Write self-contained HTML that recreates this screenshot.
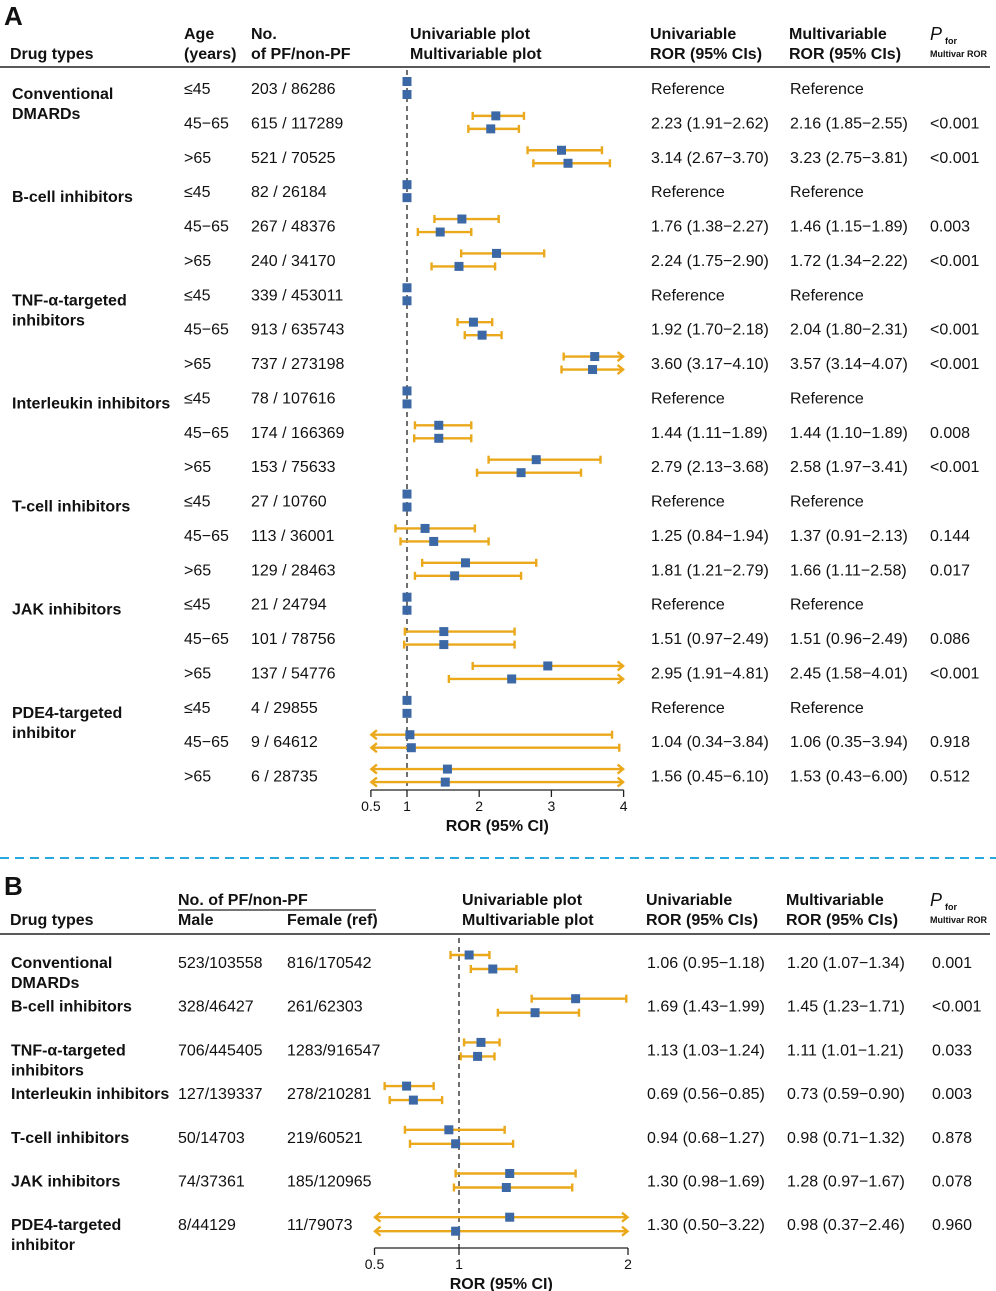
<!DOCTYPE html>
<html><head><meta charset="utf-8"><style>
html,body{margin:0;padding:0;background:#fff}
svg{display:block;font-family:"Liberation Sans",Arial,sans-serif}
.b{font-weight:bold}
</style></head><body>
<svg id="s" width="996" height="1291" viewBox="0 0 996 1291" xmlns="http://www.w3.org/2000/svg">
<g font-size="16" fill="#111">
<text x="4" y="25" font-size="26" class="b">A</text>
<text x="10" y="59" class="b">Drug types</text>
<text x="184" y="39" class="b">Age</text>
<text x="184" y="59" class="b">(years)</text>
<text x="251" y="39" class="b">No.</text>
<text x="251" y="59" class="b">of PF/non-PF</text>
<text x="410" y="39" class="b">Univariable plot</text>
<text x="410" y="59" class="b">Multivariable plot</text>
<text x="650" y="39" class="b">Univariable</text>
<text x="650" y="59" class="b">ROR (95% CIs)</text>
<text x="789" y="39" class="b">Multivariable</text>
<text x="789" y="59" class="b">ROR (95% CIs)</text>
<text x="930" y="40" font-size="18" font-style="italic">P</text>
<text x="945" y="44" font-size="9" class="b">for</text>
<text x="930" y="57" font-size="9" class="b">Multivar ROR</text>
<line x1="0" y1="67" x2="990" y2="67" stroke="#222" stroke-width="1.5"/>
<line x1="0" y1="858" x2="996" y2="858" stroke="#29a8e0" stroke-width="2" stroke-dasharray="9,6"/>
<text x="4" y="895" font-size="26" class="b">B</text>
<text x="10" y="925" class="b">Drug types</text>
<text x="178" y="905" class="b">No. of PF/non-PF</text>
<line x1="178" y1="910" x2="376" y2="910" stroke="#222" stroke-width="1.2"/>
<text x="178" y="925" class="b">Male</text>
<text x="287" y="925" class="b">Female (ref)</text>
<text x="462" y="905" class="b">Univariable plot</text>
<text x="462" y="925" class="b">Multivariable plot</text>
<text x="646" y="905" class="b">Univariable</text>
<text x="646" y="925" class="b">ROR (95% CIs)</text>
<text x="786" y="905" class="b">Multivariable</text>
<text x="786" y="925" class="b">ROR (95% CIs)</text>
<text x="930" y="906" font-size="18" font-style="italic">P</text>
<text x="945" y="910" font-size="9" class="b">for</text>
<text x="930" y="923" font-size="9" class="b">Multivar ROR</text>
<line x1="0" y1="934" x2="990" y2="934" stroke="#222" stroke-width="1.5"/>
</g>
<g id="plots"></g>
</svg>
<script>
// Panel A data
const aDrugs = [["Conventional","DMARDs"],["B-cell inhibitors"],["TNF-α-targeted","inhibitors"],["Interleukin inhibitors"],["T-cell inhibitors"],["JAK inhibitors"],["PDE4-targeted","inhibitor"]];
const aAges = ["≤45","45−65",">65"];
const aCounts = ["203 / 86286","615 / 117289","521 / 70525","82 / 26184","267 / 48376","240 / 34170","339 / 453011","913 / 635743","737 / 273198","78 / 107616","174 / 166369","153 / 75633","27 / 10760","113 / 36001","129 / 28463","21 / 24794","101 / 78756","137 / 54776","4 / 29855","9 / 64612","6 / 28735"];
const aUniEst = [1,2.23,3.14,1,1.76,2.24,1,1.92,3.60,1,1.44,2.79,1,1.25,1.81,1,1.51,2.95,1,1.04,1.56];
const aUniLo  = [null,1.91,2.67,null,1.38,1.75,null,1.70,3.17,null,1.11,2.13,null,0.84,1.21,null,0.97,1.91,null,0.34,0.45];
const aUniHi  = [null,2.62,3.70,null,2.27,2.90,null,2.18,4.10,null,1.89,3.68,null,1.94,2.79,null,2.49,4.81,null,3.84,6.10];
const aMulEst = [1,2.16,3.23,1,1.46,1.72,1,2.04,3.57,1,1.44,2.58,1,1.37,1.66,1,1.51,2.45,1,1.06,1.53];
const aMulLo  = [null,1.85,2.75,null,1.15,1.34,null,1.80,3.14,null,1.10,1.97,null,0.91,1.11,null,0.96,1.58,null,0.35,0.43];
const aMulHi  = [null,2.55,3.81,null,1.89,2.22,null,2.31,4.07,null,1.89,3.41,null,2.13,2.58,null,2.49,4.01,null,3.94,6.00];
const aP = ["","<0.001","<0.001","","0.003","<0.001","","<0.001","<0.001","","0.008","<0.001","","0.144","0.017","","0.086","<0.001","","0.918","0.512"];
const aTicks = [0.5,1,2,3,4];
// Panel B data
const bDrugs = [["Conventional","DMARDs"],["B-cell inhibitors"],["TNF-α-targeted","inhibitors"],["Interleukin inhibitors"],["T-cell inhibitors"],["JAK inhibitors"],["PDE4-targeted","inhibitor"]];
const bMale = ["523/103558","328/46427","706/445405","127/139337","50/14703","74/37361","8/44129"];
const bFemale = ["816/170542","261/62303","1283/916547","278/210281","219/60521","185/120965","11/79073"];
const bUniEst = [1.06,1.69,1.13,0.69,0.94,1.30,1.30];
const bUniLo  = [0.95,1.43,1.03,0.56,0.68,0.98,0.50];
const bUniHi  = [1.18,1.99,1.24,0.85,1.27,1.69,3.22];
const bMulEst = [1.20,1.45,1.11,0.73,0.98,1.28,0.98];
const bMulLo  = [1.07,1.23,1.01,0.59,0.71,0.97,0.37];
const bMulHi  = [1.34,1.71,1.21,0.90,1.32,1.67,2.46];
const bP = ["0.001","<0.001","0.033","0.003","0.878","0.078","0.960"];
const bTicks = [0.5,1,2];

const NS="http://www.w3.org/2000/svg";
const G=document.getElementById('plots');
function mk(tag,attrs,parent,txt){const e=document.createElementNS(NS,tag);for(const k in attrs)e.setAttribute(k,attrs[k]);if(txt!=null)e.textContent=txt;(parent||G).appendChild(e);return e;}
const fmt=v=>v.toFixed(2);
const ORG="#eaa81a", BLU="#3d68a6";
const SW=2.4;

function ci(sx,y,est,lo,hi,min,max,name){
  if(lo==null) return;
  const g=mk('g',{});
  
  
  const l=Math.max(lo,min), h=Math.min(hi,max);
  const x1=sx(l), x2=sx(h);
  mk('line',{x1:x1,y1:y,x2:x2,y2:y,stroke:ORG,'stroke-width':SW},g);
  if(lo<=min) mk('path',{d:`M${x1+6},${y-4.5} L${x1+0.5},${y} L${x1+6},${y+4.5}`,fill:'none',stroke:ORG,'stroke-width':SW},g);
  else mk('line',{x1:x1,y1:y-4,x2:x1,y2:y+4,stroke:ORG,'stroke-width':SW},g);
  if(hi>=max) mk('path',{d:`M${x2-6},${y-4.5} L${x2-0.5},${y} L${x2-6},${y+4.5}`,fill:'none',stroke:ORG,'stroke-width':SW},g);
  else mk('line',{x1:x2,y1:y-4,x2:x2,y2:y+4,stroke:ORG,'stroke-width':SW},g);
}
function pt(sx,y,v,name){
  const r=mk('rect',{x:sx(v)-4.5,y:y-4.5,width:9,height:9,fill:BLU});
  
  
}
function txt(x,y,s,name,bold){
  const t=mk('text',{x:x,y:y,'font-size':16,fill:'#111','font-weight':bold?'bold':'normal'},G,s);
  
  
}
function axis(sx,ticks,min,max,yAxis,yTop,prefix){
  const d=mk('line',{x1:sx(1),y1:yTop,x2:sx(1),y2:yAxis,stroke:'#222','stroke-width':1.3,'stroke-dasharray':'5,4'});
  
  
  const a=mk('line',{x1:sx(min),y1:yAxis,x2:sx(max),y2:yAxis,stroke:'#222','stroke-width':1.3});
  
  
  ticks.forEach(t=>{
    mk('line',{x1:sx(t),y1:yAxis,x2:sx(t),y2:yAxis+7,stroke:'#222','stroke-width':1.3});
    const l=mk('text',{x:sx(t),y:yAxis+21,'font-size':14,'text-anchor':'middle',fill:'#111'},G,String(t));
    
    
  });
  const ttl=mk('text',{x:(sx(min)+sx(max))/2,y:yAxis+41,'font-size':16,'font-weight':'bold','text-anchor':'middle',fill:'#111'},G,'ROR (95% CI)');
  
  
}

// Panel A
const sxA=v=>407+(v-1)*72.2;
const rowA=i=>88+i*34.38;
axis(sxA,aTicks,0.5,4,790,70,'a');
aDrugs.forEach((d,gi)=>{d.forEach((ln,k)=>txt(12,rowA(gi*3)+11+k*20,ln,'a-drug-name',true));});
aCounts.forEach((c,i)=>{
  const y=rowA(i);
  txt(184,y+6,aAges[i%3],'a-age-group');
  txt(251,y+6,c,'a-count');
  if(aUniLo[i]==null){txt(651,y+6,'Reference','a-uni-ror');txt(790,y+6,'Reference','a-multi-ror');}
  else{
    txt(651,y+6,`${fmt(aUniEst[i])} (${fmt(aUniLo[i])}−${fmt(aUniHi[i])})`,'a-uni-ror');
    txt(790,y+6,`${fmt(aMulEst[i])} (${fmt(aMulLo[i])}−${fmt(aMulHi[i])})`,'a-multi-ror');
  }
  txt(930,y+6,aP[i],'a-p-value');
  ci(sxA,y-6.5,aUniEst[i],aUniLo[i],aUniHi[i],0.5,4,'a-uni');
  ci(sxA,y+6.5,aMulEst[i],aMulLo[i],aMulHi[i],0.5,4,'a-multi');
  pt(sxA,y-6.5,aUniEst[i],'a-uni');
  pt(sxA,y+6.5,aMulEst[i],'a-multi');
});

// Panel B
const sxB=v=>459+(v-1)*169;
const rowB=i=>962+i*43.7;
axis(sxB,bTicks,0.5,2,1248,938,'b');
bDrugs.forEach((d,i)=>{
  const y=rowB(i);
  d.forEach((ln,k)=>txt(11,y+6+k*20,ln,'b-drug-name',true));
  txt(178,y+6,bMale[i],'b-male-count');
  txt(287,y+6,bFemale[i],'b-female-count');
  txt(647,y+6,`${fmt(bUniEst[i])} (${fmt(bUniLo[i])}−${fmt(bUniHi[i])})`,'b-uni-ror');
  txt(787,y+6,`${fmt(bMulEst[i])} (${fmt(bMulLo[i])}−${fmt(bMulHi[i])})`,'b-multi-ror');
  txt(932,y+6,bP[i],'b-p-value');
  ci(sxB,y-7,bUniEst[i],bUniLo[i],bUniHi[i],0.5,2,'b-uni');
  ci(sxB,y+7,bMulEst[i],bMulLo[i],bMulHi[i],0.5,2,'b-multi');
  pt(sxB,y-7,bUniEst[i],'b-uni');
  pt(sxB,y+7,bMulEst[i],'b-multi');
});
</script>
</body></html>
